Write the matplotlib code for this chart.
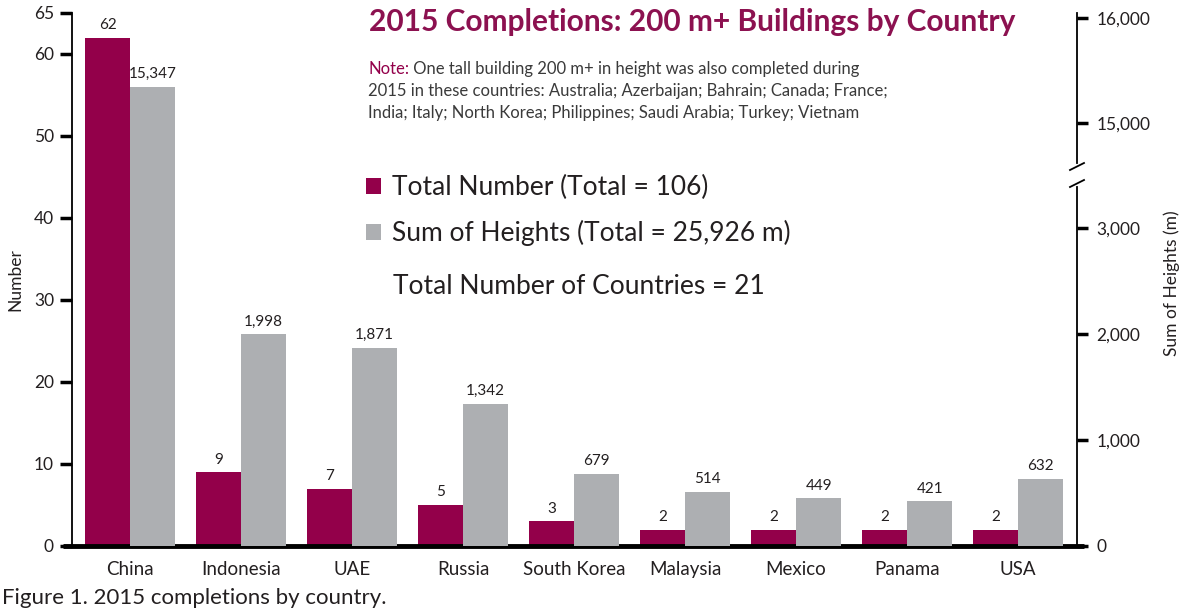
import numpy as np
import matplotlib.pyplot as plt

plt.rcParams['font.family'] = ['Lato', 'DejaVu Sans']

countries = ['China', 'Indonesia', 'UAE', 'Russia', 'South Korea', 'Malaysia', 'Mexico', 'Panama', 'USA']
numbers = [62, 9, 7, 5, 3, 2, 2, 2, 2]
heights = [15347, 1998, 1871, 1342, 679, 514, 449, 421, 632]
left_ticks = [0, 10, 20, 30, 40, 50, 60, 65]
right_ticks = [0, 1000, 2000, 3000, 15000, 16000]

magenta = '#93004A'
grey = '#ADAFB2'
title_color = '#8C1150'
text_color = '#231F20'


# broken scale for the heights axis: 0-3,400 and 14,500+ kept, middle squeezed
def fwd(v):
    v = np.asarray(v, dtype=float)
    return np.where(v <= 3400, v * 0.106,
                    np.where(v >= 14500, 423 + (v - 15000) * 0.105,
                             360.4 + (v - 3400) * 10.1 / 11100))


def inv(y):
    y = np.asarray(y, dtype=float)
    return np.where(y <= 360.4, y / 0.106,
                    np.where(y >= 370.5, 15000 + (y - 423) / 0.105,
                             3400 + (y - 360.4) * 11100 / 10.1))


fig = plt.figure(figsize=(11.89, 6.16), dpi=100)
ax = fig.add_axes([72 / 1189, 70 / 616, 1005 / 1189, 533 / 616])
ax2 = ax.twinx()
ax2.set_yscale('function', functions=(fwd, inv))

x = np.arange(len(countries))
w = 0.405
b1 = ax.bar(x - w / 2, numbers, w, color=magenta, label='Total Number (Total = 106)')
b2 = ax2.bar(x + w / 2, heights, w, color=grey, label='Sum of Heights (Total = 25,926 m)')

ax.set_xlim(-0.5225, 8.53)
ax.set_ylim(0, 65)
ax2.set_ylim(0, float(inv(533)))

ax.bar_label(b1, padding=4, fontsize=11, color=text_color)
ax2.bar_label(b2, labels=[f'{h:,}' for h in heights], padding=4, fontsize=11, color=text_color)

ax.set_yticks(left_ticks)
ax.tick_params(axis='y', direction='out', length=9, width=2.5, labelsize=12.5,
               pad=4, labelcolor=text_color)
ax.set_xticks(x)
ax.set_xticklabels(countries)
ax.tick_params(axis='x', length=0, labelsize=13.5, pad=11, labelcolor=text_color)

ax2.set_yticks(right_ticks)
ax2.set_yticklabels([f'{t:,}' for t in right_ticks])
ax2.yaxis.set_minor_locator(plt.NullLocator())
ax2.tick_params(axis='y', direction='out', length=8, width=2.5, labelsize=12.5,
                pad=6, labelcolor=text_color)

for s in ['top', 'right', 'bottom']:
    ax.spines[s].set_visible(False)
for s in ['top', 'right', 'bottom', 'left']:
    ax2.spines[s].set_visible(False)
ax.spines['left'].set_linewidth(1.3)

# thick base line
ax.plot([-9 / 1005, 1 + 7 / 1005], [0, 0], transform=ax.transAxes, color='black',
        lw=3.5, clip_on=False, solid_capstyle='butt')

# right spine with break marks
H = 533
tr = ax2.transAxes
ax2.plot([1, 1], [0, 359 / H], transform=tr, color='black', lw=1.3, clip_on=False)
ax2.plot([1, 1], [383 / H, 1], transform=tr, color='black', lw=1.3, clip_on=False)
for yc in (362.5, 379.5):
    ax2.plot([1 - 7 / 1005, 1 + 7 / 1005], [(yc - 3.5) / H, (yc + 3.5) / H],
             transform=tr, color='black', lw=1.3, clip_on=False)

fig.text(15 / 1189, 1 - 280 / 616, 'Number', rotation=90, ha='center', va='center',
         fontsize=12.5, color=text_color)
fig.text(1172 / 1189, 1 - 283 / 616, 'Sum of Heights (m)', rotation=90, ha='center',
         va='center', fontsize=12.5, color=text_color)

fig.text(692 / 1189, 1 - 22 / 616, '2015 Completions: 200 m+ Buildings by Country',
         ha='center', va='center', fontsize=21.5, fontweight='bold', color=title_color)

t1 = fig.text(368 / 1189, 1 - 69 / 616, 'Note:', color=magenta, fontsize=12, va='center')
ax.annotate(' One tall building 200 m+ in height was also completed during', xy=(1, 0),
            xycoords=t1, va='bottom', ha='left', fontsize=12, color='#3A3A3A',
            annotation_clip=False)
fig.text(368 / 1189, 1 - 91 / 616,
         '2015 in these countries: Australia; Azerbaijan; Bahrain; Canada; France;',
         fontsize=12, va='center', color='#3A3A3A')
fig.text(368 / 1189, 1 - 113 / 616,
         'India; Italy; North Korea; Philippines; Saudi Arabia; Turkey; Vietnam',
         fontsize=12, va='center', color='#3A3A3A')

ax2.legend(handles=[b1, b2], loc='upper left', bbox_to_anchor=(366 / 1189, 1 - 175 / 616),
           bbox_transform=fig.transFigure, frameon=False, labelcolor=text_color,
           prop={'size': 19}, handlelength=0.55, handleheight=0.55,
           handletextpad=0.45, labelspacing=0.75, borderpad=0, borderaxespad=0)
fig.text(393 / 1189, 1 - 286 / 616, 'Total Number of Countries = 21', fontsize=19,
         va='center', color=text_color)

fig.text(2 / 1189, 1 - 598 / 616, 'Figure 1. 2015 completions by country.', fontsize=16,
         va='center', color=text_color)

fig.savefig('out.png', dpi=100)
